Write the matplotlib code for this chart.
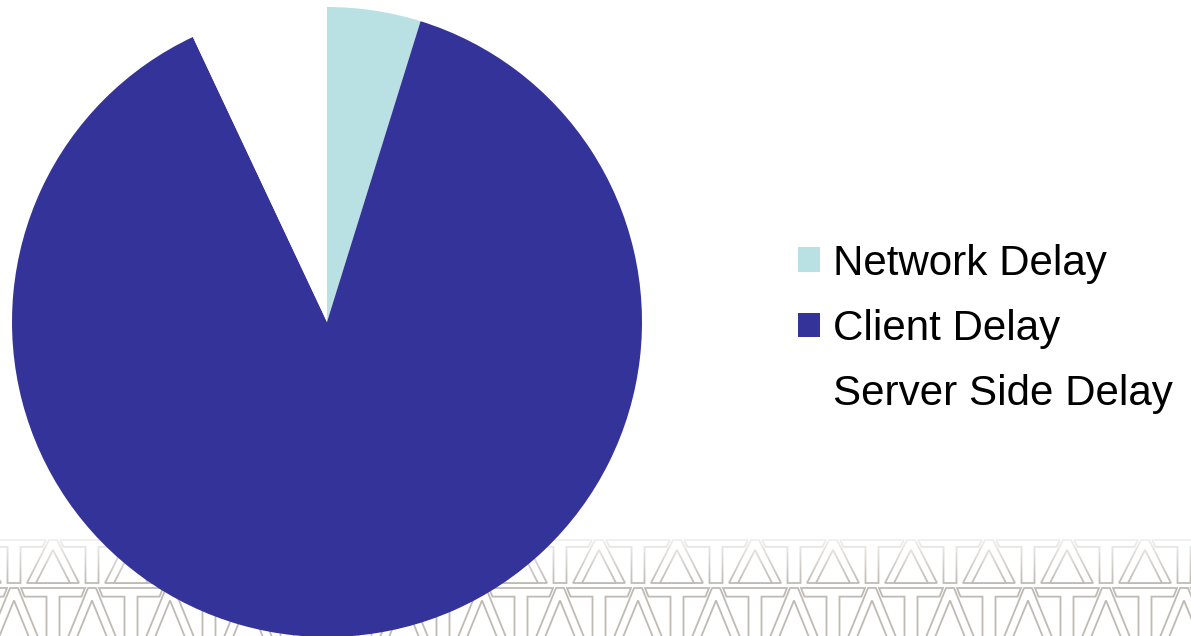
import numpy as np
import matplotlib
matplotlib.use("Agg")
import matplotlib.pyplot as plt
from matplotlib.patches import Polygon
from matplotlib.font_manager import FontProperties

labels = ["Network Delay", "Client Delay", "Server Side Delay"]
shares = [4.8, 88.2, 7.0]
colors = ["#B9E0E3", "#333399", "#FFFFFF"]

W, H = 1191, 636
fig = plt.figure(figsize=(W / 100, H / 100), dpi=100)
fig.patch.set_facecolor("white")

# background watermark: two rows of interlocking outlined T / A letters
bg = fig.add_axes([0, 0, 1, 1], zorder=0)
bg.set_xlim(0, W)
bg.set_ylim(0, H)
bg.set_axis_off()

edge = "#bfbab4"
pitch = 78


def letter_a(ca, b, h):
    outer = [(ca - 26, b), (ca - 4, b + h), (ca + 4, b + h), (ca + 26, b)]
    inner = [(ca - 17, b), (ca, b + 0.77 * h), (ca + 17, b)]
    bg.add_patch(Polygon(outer, closed=True, fc="white", ec=edge, lw=1.3))
    bg.add_patch(Polygon(inner, closed=True, fc="white", ec=edge, lw=1.3))


def letter_t(ct, b, h):
    pts = [(ct - 32, b + h), (ct + 32, b + h), (ct + 28.5, b + 0.84 * h),
           (ct + 6.5, b + 0.84 * h), (ct + 6.5, b), (ct - 6.5, b),
           (ct - 6.5, b + 0.84 * h), (ct - 28.5, b + 0.84 * h)]
    bg.add_patch(Polygon(pts, closed=True, fc="white", ec=edge, lw=1.3))


for bottom, h, a0 in [(53, 43, 53), (-6, 54, 14)]:
    for k in range(-1, 17):
        ca = a0 + k * pitch
        letter_a(ca, bottom, h)
        letter_t(ca - pitch / 2, bottom, h)

grad = np.ones((100, 2, 4))
grad[..., 3] = np.linspace(0.0, 0.8, 100)[:, None]
bg.imshow(grad, extent=(0, W, 52, 98), origin="lower", aspect="auto", zorder=5)

# pie
ax = fig.add_axes([12 / W, (H - 637) / H, 630 / W, 630 / H], zorder=2)
ax.patch.set_alpha(0)
wedges, _ = ax.pie(shares, colors=colors, startangle=90, counterclock=False,
                   radius=1, wedgeprops=dict(linewidth=0))
ax.set_xlim(-1, 1)
ax.set_ylim(-1, 1)
ax.set_aspect("equal")

fig.legend(wedges, labels, loc="center left", bbox_to_anchor=(798 / W, (H - 329) / H),
           frameon=False, prop=FontProperties(family="Liberation Sans", size=30.3),
           handlelength=0.53, handleheight=0.53, handletextpad=0.29,
           labelspacing=0.6, borderpad=0, borderaxespad=0)

fig.savefig("out.png", dpi=100, facecolor="white")
